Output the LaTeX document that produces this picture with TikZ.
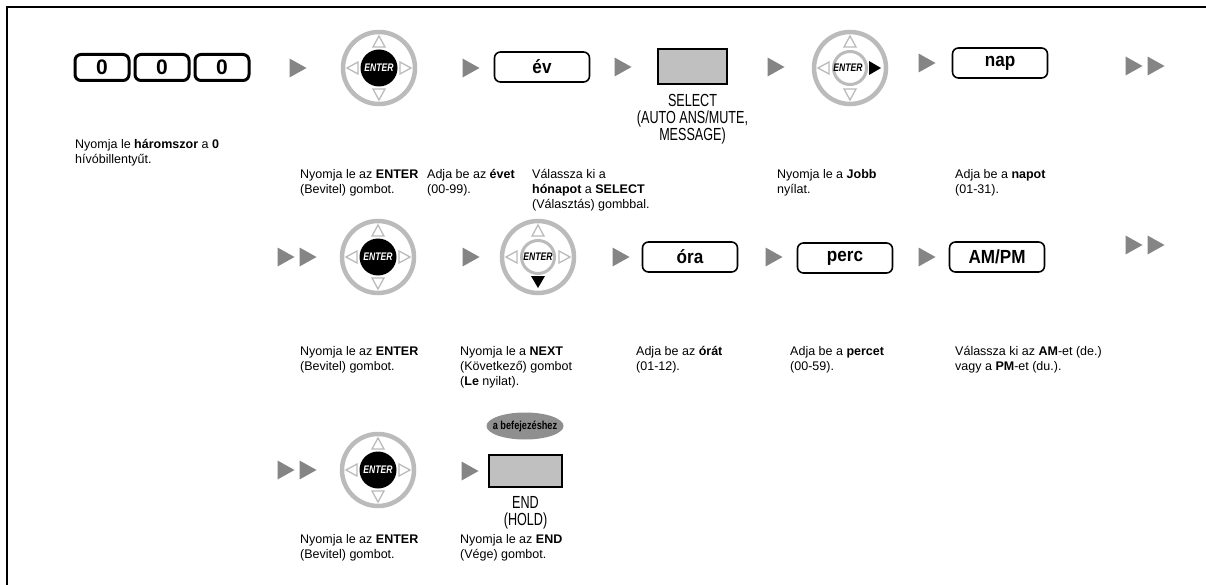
\documentclass[tikz,border=0pt]{standalone}
\usepackage{fontspec}
\setmainfont{Liberation Sans}
\usetikzlibrary{shapes.geometric}
\definecolor{arrowgray}{HTML}{858585}
\definecolor{ringgray}{HTML}{BBBBBB}
\definecolor{keygray}{HTML}{C0C0C0}
\definecolor{ellgray}{HTML}{8F8F8F}
\tikzset{
  stepkey/.style={draw, line width=1.6pt, rounded corners=6pt, minimum width=95pt, minimum height=30pt, inner sep=0pt},
  keytext/.style={inner sep=0pt, xscale=0.9, font=\fontsize{19}{19}\selectfont\bfseries},
  zerokey/.style={draw, line width=3pt, rounded corners=6pt, minimum width=54pt, minimum height=26pt, inner sep=0pt, font=\fontsize{21}{21}\selectfont\bfseries},
  graykey/.style={draw, line width=2pt, fill=keygray, minimum width=69pt, minimum height=35pt, inner sep=0pt},
  desc/.style={anchor=north west, align=left, inner sep=0pt, font=\fontsize{12.5}{15}\selectfont},
  keylabel/.style={align=center, inner sep=0pt, xscale=0.72, font=\fontsize{17.5}{17}\selectfont},
  navring/.style={circle, draw=ringgray, line width=4.5pt, minimum size=72pt, inner sep=0pt},
  hollowtri/.style={draw=ringgray, line width=1.3pt},
  entertext/.style={inner sep=0pt, xscale=0.78, font=\fontsize{11}{11}\selectfont\bfseries\itshape},
  finlabel/.style={ellipse, fill=ellgray, minimum width=77pt, minimum height=27pt, inner sep=0pt},
  fintext/.style={inner sep=0pt, xscale=0.8, font=\fontsize{11.5}{11.5}\selectfont\bfseries},
}
\newcommand\fwd[2]{\fill[arrowgray] (#1,#2) ++(-8.5,-9.5) -- ++(17,9.5) -- ++(-17,9.5) -- cycle;}
\newcommand\fwdd[2]{\fwd{#1}{#2}\fwd{#1+22}{#2}}
\newcommand\navtriup{\draw[hollowtri] (0,-32) -- (6,-21) -- (-6,-21) -- cycle;}
\newcommand\navtridown{\draw[hollowtri] (0,32) -- (6,21) -- (-6,21) -- cycle;}
\newcommand\navtrileft{\draw[hollowtri] (-32,0) -- (-21,6) -- (-21,-6) -- cycle;}
\newcommand\navtriright{\draw[hollowtri] (32,0) -- (21,6) -- (21,-6) -- cycle;}
\newcommand\naventer[2]{%
  \node[navring] (#1) at (#2) {};
  \begin{scope}[shift={(#1.center)}]
    \navtriup\navtridown\navtrileft\navtriright
    \fill[black] (0,0) circle (18.5pt);
    \node[entertext, text=white] (#1-t) at (0,0) {ENTER};
  \end{scope}}
\newcommand\navjobb[2]{%
  \node[navring] (#1) at (#2) {};
  \begin{scope}[shift={(#1.center)}]
    \navtriup\navtridown\navtrileft
    \draw[ringgray, line width=3pt, fill=white] (0,0) circle (16.5pt);
    \node[entertext, text=black] (#1-t) at (-2,0) {ENTER};
    \fill[black] (31,0) -- (19,-7) -- (19,7) -- cycle;
  \end{scope}}
\newcommand\navle[2]{%
  \node[navring] (#1) at (#2) {};
  \begin{scope}[shift={(#1.center)}]
    \navtriup\navtrileft\navtriright
    \draw[ringgray, line width=3pt, fill=white] (0,0) circle (16.5pt);
    \node[entertext, text=black] (#1-t) at (0,0) {ENTER};
    \fill[black] (0,31) -- (-7,19) -- (7,19) -- cycle;
  \end{scope}}
\begin{document}
\begin{tikzpicture}[x=1pt,y=-1pt]
\useasboundingbox (0,0) rectangle (1206,585);
\fill[white] (0,0) rectangle (1206,585);
\draw[line width=2.5pt] (7,586) -- (7,7) -- (1207,7);

% ---------- row 1 ----------
\node[zerokey] (z1) at (102,67.5) {0};
\node[zerokey] (z2) at (162,67.5) {0};
\node[zerokey] (z3) at (222,67.5) {0};
\node[desc] (dz) at (75,139) {Nyomja le \textbf{háromszor} a \textbf{0}\\hívóbillentyűt.};

\fwd{298}{68}
\naventer{n1}{379,68}
\fwd{471}{68}
\node[stepkey] (ev) at (542,67) {};
\node[keytext] (evt) at (ev) {év};
\fwd{623}{67}
\node[graykey] (sel) at (692.5,66.5) {};
\node[keylabel, anchor=north] (sell) at (692.5,94) {SELECT\\(AUTO ANS/MUTE,\\MESSAGE)};
\fwd{776}{67}
\navjobb{n2}{850,68}
\fwd{927}{63}
\node[stepkey] (nap) at (1000,63) {};
\node[keytext] (napt) at (nap) {nap};
\fwdd{1134}{66}

\node[desc] (d1) at (300,169) {Nyomja le az \textbf{ENTER}\\(Bevitel) gombot.};
\node[desc] (d2) at (427,169) {Adja be az \textbf{évet}\\(00-99).};
\node[desc] (d3) at (532,169) {Válassza ki a\\\textbf{hónapot} a \textbf{SELECT}\\(Választás) gombbal.};
\node[desc] (d4) at (777,169) {Nyomja le a \textbf{Jobb}\\nyílat.};
\node[desc] (d5) at (955,169) {Adja be a \textbf{napot}\\(01-31).};

% ---------- row 2 ----------
\fwdd{286}{257}
\naventer{n3}{378,257}
\fwd{471}{257}
\navle{n4}{538,257}
\fwd{621}{257}
\node[stepkey] (ora) at (690,257) {};
\node[keytext] (orat) at (ora) {óra};
\fwd{774}{257}
\node[stepkey] (perc) at (845,258) {};
\node[keytext] (perct) at (perc) {perc};
\fwd{927}{257}
\node[stepkey] (ampm) at (997,257) {};
\node[keytext] (ampmt) at (ampm) {AM/PM};
\fwdd{1134}{245}

\node[desc] (e1) at (300,346) {Nyomja le az \textbf{ENTER}\\(Bevitel) gombot.};
\node[desc] (e2) at (460,346) {Nyomja le a \textbf{NEXT}\\(Következő) gombot\\(\textbf{Le} nyilat).};
\node[desc] (e3) at (636,346) {Adja be az \textbf{órát}\\(01-12).};
\node[desc] (e4) at (790,346) {Adja be a \textbf{percet}\\(00-59).};
\node[desc] (e5) at (955,346) {Válassza ki az \textbf{AM}-et (de.)\\vagy a \textbf{PM}-et (du.).};

% ---------- row 3 ----------
\fwdd{286}{470}
\naventer{n5}{378,470}
\fwd{470}{471}
\node[finlabel] (fin) at (525,426) {};
\node[fintext] (fint) at (fin) {a befejezéshez};
\node[graykey, minimum width=73pt, minimum height=32pt] (end) at (525.5,471) {};
\node[keylabel, anchor=north] (endl) at (525.5,496) {END\\(HOLD)};
\node[desc] (f1) at (300,534) {Nyomja le az \textbf{ENTER}\\(Bevitel) gombot.};
\node[desc] (f2) at (460,534) {Nyomja le az \textbf{END}\\(Vége) gombot.};
\end{tikzpicture}
\end{document}
